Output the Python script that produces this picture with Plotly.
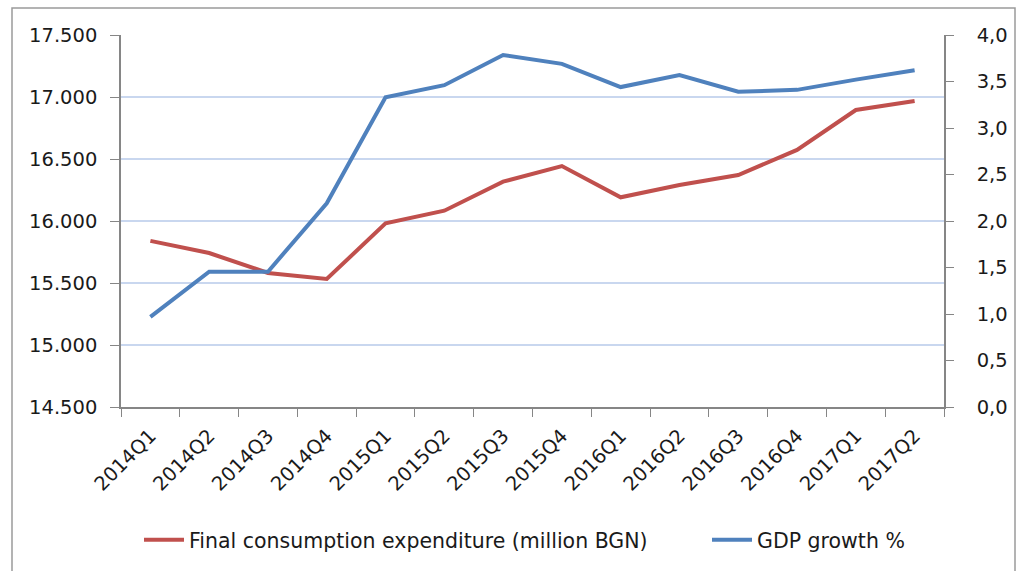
import plotly.graph_objects as go

quarters = ["2014Q1", "2014Q2", "2014Q3", "2014Q4", "2015Q1", "2015Q2", "2015Q3",
            "2015Q4", "2016Q1", "2016Q2", "2016Q3", "2016Q4", "2017Q1", "2017Q2"]
consumption = [15840, 15742, 15581, 15532, 15981, 16083, 16317,
               16443, 16191, 16290, 16371, 16573, 16895, 16968]
gdp_growth = [0.97, 1.455, 1.455, 2.19, 3.33, 3.46, 3.785,
              3.69, 3.44, 3.57, 3.39, 3.41, 3.52, 3.62]

left_ticks = [14500, 15000, 15500, 16000, 16500, 17000, 17500]
right_ticks = [0, 0.5, 1, 1.5, 2, 2.5, 3, 3.5, 4]

FONT = "DejaVu Sans"
TXT = "#1a1a1a"
AXIS_COLOR = "#868686"
GRID_COLOR = "#c9d7ef"

fig = go.Figure()
fig.add_trace(go.Scatter(x=quarters, y=consumption, mode="lines",
                         name="Final consumption expenditure (million BGN)",
                         line=dict(color="#c0504d", width=4), yaxis="y",
                         legend="legend"))
fig.add_trace(go.Scatter(x=quarters, y=gdp_growth, mode="lines",
                         name="GDP growth %",
                         line=dict(color="#4f81bd", width=4), yaxis="y2",
                         legend="legend2"))

leg_common = dict(orientation="h", y=-0.357, yanchor="middle", xanchor="left",
                  font=dict(family=FONT, size=20.5, color=TXT), itemwidth=40,
                  bgcolor="rgba(0,0,0,0)")

fig.update_layout(
    width=1017, height=571,
    margin=dict(l=121, r=73, t=35, b=164, autoexpand=False),
    paper_bgcolor="white", plot_bgcolor="white",
    separators=",.",
    font=dict(family=FONT, size=19.5, color=TXT),
    showlegend=True,
    legend=dict(x=(139 - 121) / 823, **leg_common),
    legend2=dict(x=(707 - 121) / 823, **leg_common),
    xaxis=dict(type="category", range=[-0.5, 13.5], tickangle=-45,
               showline=True, linecolor=AXIS_COLOR, linewidth=1.5,
               ticks="outside", tickson="boundaries", ticklen=8, tickcolor=AXIS_COLOR,
               showgrid=False, tickfont=dict(size=19.5), ticklabelstandoff=8,
               automargin=False),
    yaxis=dict(range=[14500, 17500], tickvals=left_ticks, tickformat=",d",
               showline=True, linecolor=AXIS_COLOR, linewidth=1.5,
               ticks="outside", ticklen=9, tickcolor=AXIS_COLOR,
               showgrid=True, gridcolor=GRID_COLOR, gridwidth=1.5,
               zeroline=False, ticklabelstandoff=9, automargin=False),
    yaxis2=dict(range=[0, 4], tickvals=right_ticks, tickformat=".1f",
                overlaying="y", side="right",
                showline=True, linecolor=AXIS_COLOR, linewidth=1.5,
                ticks="outside", ticklen=8, tickcolor=AXIS_COLOR,
                showgrid=False, zeroline=False, ticklabelstandoff=19,
                automargin=False),
)

# outer chart border
fig.add_shape(type="rect", xref="paper", yref="paper",
              x0=(12 - 121) / 823, x1=(1015 - 121) / 823,
              y0=(407 - 575) / 372, y1=(407 - 8) / 372,
              line=dict(color="#9a9a9a", width=1.5), fillcolor="rgba(0,0,0,0)",
              layer="below")

fig.write_html("out.html")
